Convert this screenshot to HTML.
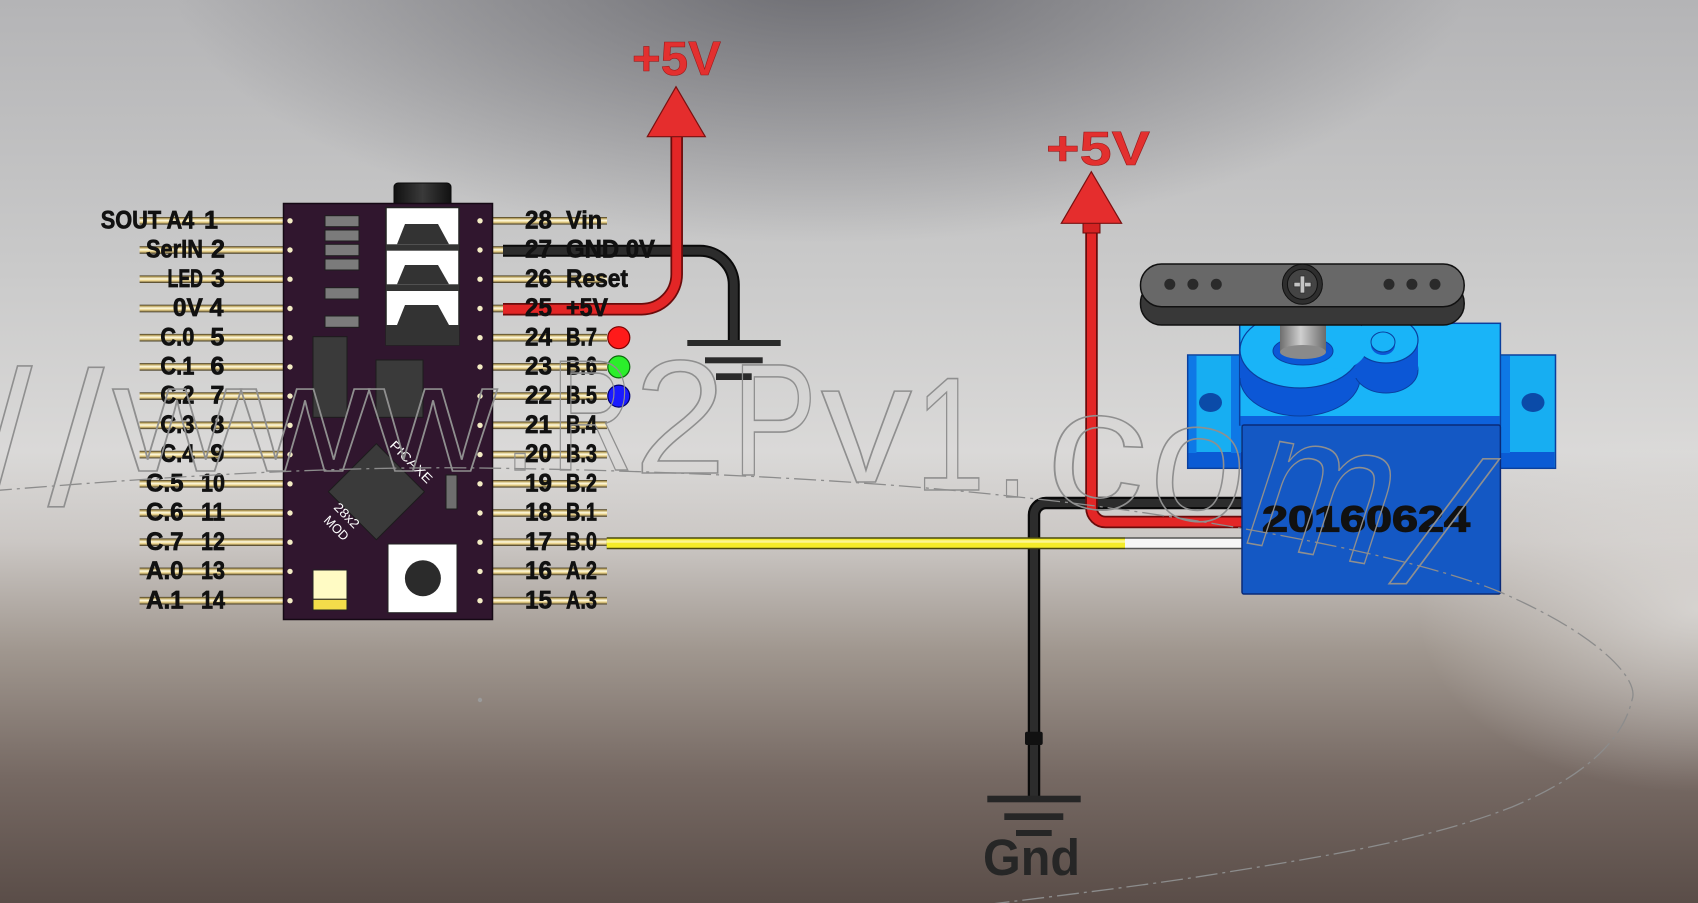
<!DOCTYPE html>
<html><head><meta charset="utf-8"><style>
html,body{margin:0;padding:0;background:#c8c8c8;}
svg{display:block;}
.lb{font-family:"Liberation Sans",Arial,sans-serif;font-weight:bold;font-size:25px;fill:#111;stroke:#111;stroke-width:0.7;}
.wm{font-family:"Liberation Sans",Arial,sans-serif;fill:none;stroke:#8f8f8f;stroke-width:1.6;}
</style></head><body>
<svg width="1698" height="903" viewBox="0 0 1698 903" xmlns="http://www.w3.org/2000/svg">
<defs>
 <linearGradient id="bg" x1="0" y1="0" x2="0" y2="1">
  <stop offset="0" stop-color="#b4b4b6"/>
  <stop offset="0.3" stop-color="#cacaca"/>
  <stop offset="0.5" stop-color="#dad9d8"/>
  <stop offset="0.6" stop-color="#cbc7c4"/>
  <stop offset="0.72" stop-color="#a0978f"/>
  <stop offset="0.86" stop-color="#766963"/>
  <stop offset="1" stop-color="#5a4d48"/>
 </linearGradient>
 <radialGradient id="topdark" cx="820" cy="-30" r="650" gradientUnits="userSpaceOnUse" gradientTransform="translate(820 -30) scale(1 0.42) translate(-820 30)">
  <stop offset="0" stop-color="#5e5e64" stop-opacity="0.85"/>
  <stop offset="1" stop-color="#5e5e64" stop-opacity="0"/>
 </radialGradient>
 <radialGradient id="rlight" cx="1698" cy="610" r="280" gradientUnits="userSpaceOnUse" gradientTransform="translate(1698 610) scale(1 0.65) translate(-1698 -610)">
  <stop offset="0" stop-color="#e2e0de" stop-opacity="0.75"/>
  <stop offset="1" stop-color="#e2e0de" stop-opacity="0"/>
 </radialGradient>
 <linearGradient id="pin" x1="0" y1="0" x2="0" y2="1">
  <stop offset="0" stop-color="#3a3220"/>
  <stop offset="0.2" stop-color="#c0a860"/>
  <stop offset="0.45" stop-color="#fffbe2"/>
  <stop offset="0.7" stop-color="#e8cf84"/>
  <stop offset="1" stop-color="#3a3220"/>
 </linearGradient>
 <linearGradient id="jack" x1="0" y1="0" x2="1" y2="0">
  <stop offset="0" stop-color="#111"/>
  <stop offset="0.5" stop-color="#3a3a3a"/>
  <stop offset="1" stop-color="#111"/>
 </linearGradient>
 <linearGradient id="shaft" x1="0" y1="0" x2="1" y2="0">
  <stop offset="0" stop-color="#6e6e6e"/>
  <stop offset="0.45" stop-color="#cfcfcf"/>
  <stop offset="1" stop-color="#6a6a6a"/>
 </linearGradient>
</defs>

<!-- background -->
<rect x="0" y="0" width="1698" height="903" fill="url(#bg)"/>
<rect x="0" y="0" width="1698" height="903" fill="url(#topdark)"/>
<rect x="0" y="0" width="1698" height="903" fill="url(#rlight)"/>

<!-- left pins -->
<g fill="url(#pin)">
 <rect x="139.6" y="217" width="144" height="7.6"/>
 <rect x="139.6" y="246.2" width="144" height="7.6"/>
 <rect x="139.6" y="275.4" width="144" height="7.6"/>
 <rect x="139.6" y="304.7" width="144" height="7.6"/>
 <rect x="139.6" y="333.9" width="144" height="7.6"/>
 <rect x="139.6" y="363.1" width="144" height="7.6"/>
 <rect x="139.6" y="392.3" width="144" height="7.6"/>
 <rect x="139.6" y="421.5" width="144" height="7.6"/>
 <rect x="139.6" y="450.8" width="144" height="7.6"/>
 <rect x="139.6" y="480" width="144" height="7.6"/>
 <rect x="139.6" y="509.2" width="144" height="7.6"/>
 <rect x="139.6" y="538.4" width="144" height="7.6"/>
 <rect x="139.6" y="567.6" width="144" height="7.6"/>
 <rect x="139.6" y="596.9" width="144" height="7.6"/>
</g>
<!-- right pins -->
<g fill="url(#pin)">
 <rect x="492" y="217" width="115" height="7.6"/>
 <rect x="492" y="246.2" width="12" height="7.6"/>
 <rect x="492" y="275.4" width="115" height="7.6"/>
 <rect x="492" y="304.7" width="12" height="7.6"/>
 <rect x="492" y="333.9" width="115" height="7.6"/>
 <rect x="492" y="363.1" width="115" height="7.6"/>
 <rect x="492" y="392.3" width="115" height="7.6"/>
 <rect x="492" y="421.5" width="115" height="7.6"/>
 <rect x="492" y="450.8" width="115" height="7.6"/>
 <rect x="492" y="480" width="115" height="7.6"/>
 <rect x="492" y="509.2" width="115" height="7.6"/>
 <rect x="492" y="538.4" width="115" height="7.6"/>
 <rect x="492" y="567.6" width="115" height="7.6"/>
 <rect x="492" y="596.9" width="115" height="7.6"/>
</g>

<!-- chip -->
<rect x="394" y="183" width="57" height="26" rx="4" fill="url(#jack)" stroke="#0a0a0a"/>
<rect x="283.5" y="203.5" width="209" height="416" fill="#30162e" stroke="#150914" stroke-width="1.5"/>
<g fill="#f3ecc4">
 <circle cx="290" cy="220.8" r="2.7"/><circle cx="290" cy="250" r="2.7"/><circle cx="290" cy="279.2" r="2.7"/><circle cx="290" cy="308.5" r="2.7"/><circle cx="290" cy="337.7" r="2.7"/><circle cx="290" cy="366.9" r="2.7"/><circle cx="290" cy="396.1" r="2.7"/><circle cx="290" cy="425.3" r="2.7"/><circle cx="290" cy="454.6" r="2.7"/><circle cx="290" cy="483.8" r="2.7"/><circle cx="290" cy="513" r="2.7"/><circle cx="290" cy="542.2" r="2.7"/><circle cx="290" cy="571.4" r="2.7"/><circle cx="290" cy="600.7" r="2.7"/>
 <circle cx="480" cy="220.8" r="2.7"/><circle cx="480" cy="250" r="2.7"/><circle cx="480" cy="279.2" r="2.7"/><circle cx="480" cy="308.5" r="2.7"/><circle cx="480" cy="337.7" r="2.7"/><circle cx="480" cy="366.9" r="2.7"/><circle cx="480" cy="396.1" r="2.7"/><circle cx="480" cy="425.3" r="2.7"/><circle cx="480" cy="454.6" r="2.7"/><circle cx="480" cy="483.8" r="2.7"/><circle cx="480" cy="513" r="2.7"/><circle cx="480" cy="542.2" r="2.7"/><circle cx="480" cy="571.4" r="2.7"/><circle cx="480" cy="600.7" r="2.7"/>
</g>
<g fill="#7b7b7b" stroke="#1e1e1e" stroke-width="1">
 <rect x="325" y="215.7" width="34" height="11"/>
 <rect x="325" y="230" width="34" height="11"/>
 <rect x="325" y="244.3" width="34" height="11.4"/>
 <rect x="325" y="259" width="34" height="11"/>
 <rect x="325" y="287.7" width="34" height="11.3"/>
 <rect x="325" y="316" width="34" height="11.3"/>
</g>
<!-- jack block -->
<rect x="386" y="207.5" width="73" height="137.5" fill="#fff" stroke="#222" stroke-width="1.5"/>
<rect x="386" y="325" width="73" height="20" fill="#333"/>
<rect x="386" y="244.3" width="73" height="6.4" fill="#333"/>
<rect x="386" y="284.3" width="73" height="6.7" fill="#333"/>
<g fill="#333">
 <polygon points="405,224 438,224 449,244.3 397,244.3"/>
 <polygon points="405,265 438,265 449,284.3 397,284.3"/>
 <polygon points="405,305 438,305 449,325 397,325"/>
</g>
<rect x="313" y="336.7" width="34" height="80.6" fill="#3a3a3a" stroke="#1c1c1c"/>
<rect x="376" y="360" width="47" height="57.3" fill="#3a3a3a" stroke="#1c1c1c"/>
<polygon points="376.4,443.7 424.4,491.7 376.4,539.7 328.4,491.7" fill="#3a3a3a" stroke="#1c1c1c"/>
<text x="389" y="446" transform="rotate(45 389 446)" font-family="'Liberation Sans',sans-serif" font-size="13" fill="#fff" textLength="54" lengthAdjust="spacingAndGlyphs">PICAXE</text>
<text x="333" y="508" transform="rotate(45 333 508)" font-family="'Liberation Sans',sans-serif" font-size="13" fill="#fff" textLength="30" lengthAdjust="spacingAndGlyphs">28x2</text>
<text x="323" y="521" transform="rotate(45 323 521)" font-family="'Liberation Sans',sans-serif" font-size="13" fill="#fff" textLength="29" lengthAdjust="spacingAndGlyphs">MOD</text>
<rect x="446" y="475" width="11" height="34" fill="#6e6e6e" stroke="#1c1c1c"/>
<rect x="388" y="544" width="69" height="68.7" fill="#fff" stroke="#222"/>
<circle cx="422.9" cy="578.3" r="18" fill="#2b2b2b"/>
<rect x="313" y="570" width="34" height="29.3" fill="#fffbc4" stroke="#222"/>
<rect x="313" y="599.3" width="34" height="10.7" fill="#f3dc4a" stroke="#222"/>

<!-- LEDs -->
<circle cx="618.8" cy="337.7" r="11" fill="#ff1a1a" stroke="#7a0000" stroke-width="1.2"/>
<circle cx="618.8" cy="366.9" r="11" fill="#2bee2b" stroke="#0a6a0a" stroke-width="1.2"/>
<circle cx="618.8" cy="396.1" r="11" fill="#1a1aff" stroke="#00006a" stroke-width="1.2"/>

<!-- wires: chip side -->
<g fill="none" stroke-linecap="butt">
 <path d="M503 250.8 H700 A33.8 33.8 0 0 1 733.8 284.6 V340" stroke="#0a0a0a" stroke-width="12"/>
 <path d="M503 250.8 H700 A33.8 33.8 0 0 1 733.8 284.6 V340" stroke="#2c2c2c" stroke-width="8"/>
 <path d="M503 309.2 H641.7 A35 35 0 0 0 676.7 274.2 V136" stroke="#6a0b0b" stroke-width="12.5"/>
 <path d="M503 309.2 H641.7 A35 35 0 0 0 676.7 274.2 V136" stroke="#e32626" stroke-width="9"/>
</g>
<g fill="#2a2a2a">
 <rect x="687.3" y="340" width="93.4" height="6"/>
 <rect x="705" y="357.3" width="57.7" height="6"/>
 <rect x="716" y="373.3" width="35.7" height="6.7"/>
</g>
<polygon points="676,86.7 705.3,136.7 647.3,136.7" fill="#e52d2d" stroke="#7a1010" stroke-width="1.2"/>
<text x="632" y="75" font-family="'Liberation Sans',sans-serif" font-weight="bold" font-size="48" fill="#e3302f" stroke="#9a1a1a" stroke-width="0.6" textLength="89" lengthAdjust="spacingAndGlyphs">+5V</text>

<!-- wires: servo side -->
<g fill="none">
 <path d="M1242 503 H1046 A12 12 0 0 0 1034 515 V796" stroke="#0a0a0a" stroke-width="12.5"/>
 <path d="M1242 503 H1046 A12 12 0 0 0 1034 515 V796" stroke="#2c2c2c" stroke-width="8"/>
 <path d="M1091.5 233 V508 A14 14 0 0 0 1105.5 522 H1242" stroke="#6a0b0b" stroke-width="12.5"/>
 <path d="M1091.5 233 V508 A14 14 0 0 0 1105.5 522 H1242" stroke="#e32626" stroke-width="9"/>
 <path d="M606.7 543.3 H1125" stroke="#4a4a10" stroke-width="12"/>
 <path d="M606.7 543.3 H1125" stroke="#f4ec2a" stroke-width="9"/>
 <path d="M606.7 541.5 H1125" stroke="#fbf690" stroke-width="2.5"/>
 <path d="M1125 543.3 H1245" stroke="#555" stroke-width="12"/>
 <path d="M1125 543.3 H1245" stroke="#f6f6f6" stroke-width="9"/>
</g>
<rect x="1025" y="731.7" width="17.7" height="13.3" rx="2" fill="#111"/>
<rect x="1083" y="223" width="17" height="10" fill="#d42222" stroke="#6a0b0b"/>
<polygon points="1091.3,171.7 1121.6,223.3 1061.3,223.3" fill="#e52d2d" stroke="#7a1010" stroke-width="1.2"/>
<text x="1046" y="165" font-family="'Liberation Sans',sans-serif" font-weight="bold" font-size="48" fill="#e3302f" stroke="#9a1a1a" stroke-width="0.6" textLength="104" lengthAdjust="spacingAndGlyphs">+5V</text>
<g fill="#262626">
 <rect x="987.3" y="795.7" width="93.4" height="6.6"/>
 <rect x="1004.3" y="813.3" width="59" height="6.7"/>
 <rect x="1016" y="830" width="35.7" height="6"/>
</g>
<text x="983" y="875" font-family="'Liberation Sans',sans-serif" font-weight="bold" font-size="51" fill="#262626" textLength="97" lengthAdjust="spacingAndGlyphs">Gnd</text>

<!-- servo -->
<rect x="1187.7" y="355" width="367.8" height="113.3" fill="#17aef2" stroke="#0a3f9e" stroke-width="1.5"/>
<rect x="1188.5" y="452" width="366" height="15.5" fill="#0b5bd4"/>
<rect x="1188.5" y="356" width="8" height="97" fill="#0e78e6"/>
<rect x="1500" y="356" width="10" height="97" fill="#0e78e6"/>
<rect x="1231" y="356" width="10" height="97" fill="#0e78e6"/>
<ellipse cx="1210.5" cy="402.5" rx="11.5" ry="9.5" fill="#0b4ba8"/>
<ellipse cx="1533" cy="402.5" rx="11.5" ry="9.5" fill="#0b4ba8"/>
<rect x="1239.7" y="323.3" width="260.7" height="101.7" fill="#19b4f8" stroke="#0a3f9e" stroke-width="1.5"/>
<rect x="1240.5" y="416" width="259" height="10" fill="#0e62dc"/>
<rect x="1242" y="425" width="258.4" height="169" rx="2" fill="#1458c4" stroke="#0a2a78" stroke-width="1.5"/>
<!-- gear housing -->
<g fill="#0c57d6" stroke="#0a3f9e" stroke-width="1">
 <ellipse cx="1300" cy="378" rx="60" ry="38"/>
 <ellipse cx="1386" cy="370" rx="32" ry="23"/>
</g>
<rect x="1240" y="350" width="120" height="28" fill="#0c57d6"/>
<rect x="1354" y="340" width="64" height="30" fill="#0c57d6"/>
<g fill="#19b4f8" stroke="#0a3f9e" stroke-width="1.2">
 <ellipse cx="1300" cy="350" rx="60" ry="38"/>
 <ellipse cx="1386" cy="340" rx="32" ry="23"/>
</g>
<ellipse cx="1340" cy="343" rx="28" ry="26" fill="#19b4f8"/>
<ellipse cx="1383" cy="345" rx="12" ry="10" fill="#0c57d6"/>
<ellipse cx="1383" cy="342" rx="12" ry="10" fill="#19b4f8" stroke="#0a3f9e"/>
<ellipse cx="1303" cy="351" rx="30" ry="14" fill="#0c57d6" stroke="#0a3f9e"/>
<rect x="1280" y="318" width="46" height="34" fill="url(#shaft)"/>
<ellipse cx="1303" cy="352" rx="23" ry="7" fill="#8a8a8a"/>
<!-- horn -->
<rect x="1140.5" y="282" width="323.7" height="43" rx="21" fill="#383838" stroke="#111" stroke-width="1.5"/>
<rect x="1140.5" y="264" width="323.7" height="42.7" rx="21" fill="#686868" stroke="#111" stroke-width="1.5"/>
<g fill="#2a2a2a">
 <circle cx="1169.8" cy="284.3" r="5.5"/><circle cx="1192.9" cy="284.3" r="5.5"/><circle cx="1216.3" cy="284.3" r="5.5"/>
 <circle cx="1389" cy="284.3" r="5.5"/><circle cx="1411.9" cy="284.3" r="5.5"/><circle cx="1435" cy="284.3" r="5.5"/>
</g>
<circle cx="1302.4" cy="284.3" r="20" fill="#2e2e2e" stroke="#111"/>
<circle cx="1302.4" cy="284.3" r="15" fill="#444" stroke="#111"/>
<rect x="1294" y="282.3" width="17" height="4.5" fill="#c4c4c4" stroke="#222" stroke-width="0.6"/>
<rect x="1300.2" y="276" width="4.5" height="17" fill="#c4c4c4" stroke="#222" stroke-width="0.6"/>
<text x="1262" y="531.7" font-family="'Liberation Sans',sans-serif" font-weight="bold" font-size="36" fill="#111" stroke="#111" stroke-width="1.2" textLength="208" lengthAdjust="spacingAndGlyphs">20160624</text>

<!-- labels left -->
<g class="lb">
 <text x="100.7" y="228.4" textLength="93.6" lengthAdjust="spacingAndGlyphs">SOUT A4</text>
 <text x="204" y="228.4" textLength="14" lengthAdjust="spacingAndGlyphs">1</text>
 <text x="146" y="257.6" textLength="57" lengthAdjust="spacingAndGlyphs">SerIN</text>
 <text x="211" y="257.6" textLength="14" lengthAdjust="spacingAndGlyphs">2</text>
 <text x="167.5" y="286.8" textLength="35.5" lengthAdjust="spacingAndGlyphs">LED</text>
 <text x="211" y="286.8" textLength="14" lengthAdjust="spacingAndGlyphs">3</text>
 <text x="172.9" y="316.1" textLength="30" lengthAdjust="spacingAndGlyphs">0V</text>
 <text x="209.5" y="316.1" textLength="14" lengthAdjust="spacingAndGlyphs">4</text>
 <text x="160.4" y="345.3" textLength="34" lengthAdjust="spacingAndGlyphs">C.0</text>
 <text x="210.4" y="345.3" textLength="14" lengthAdjust="spacingAndGlyphs">5</text>
 <text x="160.4" y="374.5" textLength="34" lengthAdjust="spacingAndGlyphs">C.1</text>
 <text x="210.4" y="374.5" textLength="14" lengthAdjust="spacingAndGlyphs">6</text>
 <text x="160.4" y="403.7" textLength="34" lengthAdjust="spacingAndGlyphs">C.2</text>
 <text x="210.4" y="403.7" textLength="14" lengthAdjust="spacingAndGlyphs">7</text>
 <text x="160.4" y="432.9" textLength="34" lengthAdjust="spacingAndGlyphs">C.3</text>
 <text x="210.4" y="432.9" textLength="14" lengthAdjust="spacingAndGlyphs">8</text>
 <text x="160.4" y="462.2" textLength="34" lengthAdjust="spacingAndGlyphs">C.4</text>
 <text x="210.4" y="462.2" textLength="14" lengthAdjust="spacingAndGlyphs">9</text>
 <text x="146" y="491.4" textLength="37.6" lengthAdjust="spacingAndGlyphs">C.5</text>
 <text x="201" y="491.4" textLength="24" lengthAdjust="spacingAndGlyphs">10</text>
 <text x="146" y="520.6" textLength="37.6" lengthAdjust="spacingAndGlyphs">C.6</text>
 <text x="201" y="520.6" textLength="24" lengthAdjust="spacingAndGlyphs">11</text>
 <text x="146" y="549.8" textLength="37.6" lengthAdjust="spacingAndGlyphs">C.7</text>
 <text x="201" y="549.8" textLength="24" lengthAdjust="spacingAndGlyphs">12</text>
 <text x="146" y="579" textLength="37.6" lengthAdjust="spacingAndGlyphs">A.0</text>
 <text x="201" y="579" textLength="24" lengthAdjust="spacingAndGlyphs">13</text>
 <text x="146" y="608.3" textLength="37.6" lengthAdjust="spacingAndGlyphs">A.1</text>
 <text x="201" y="608.3" textLength="24" lengthAdjust="spacingAndGlyphs">14</text>
</g>
<!-- labels right -->
<g class="lb">
 <text x="525" y="228.4" textLength="27" lengthAdjust="spacingAndGlyphs">28</text>
 <text x="566" y="228.4" textLength="36" lengthAdjust="spacingAndGlyphs">Vin</text>
 <text x="525" y="257.6" textLength="27" lengthAdjust="spacingAndGlyphs">27</text>
 <text x="566" y="257.6" textLength="89" lengthAdjust="spacingAndGlyphs">GND 0V</text>
 <text x="525" y="286.8" textLength="27" lengthAdjust="spacingAndGlyphs">26</text>
 <text x="566" y="286.8" textLength="62" lengthAdjust="spacingAndGlyphs">Reset</text>
 <text x="525" y="316.1" textLength="27" lengthAdjust="spacingAndGlyphs">25</text>
 <text x="566" y="316.1" textLength="42" lengthAdjust="spacingAndGlyphs">+5V</text>
 <text x="525" y="345.3" textLength="27" lengthAdjust="spacingAndGlyphs">24</text>
 <text x="566" y="345.3" textLength="31" lengthAdjust="spacingAndGlyphs">B.7</text>
 <text x="525" y="374.5" textLength="27" lengthAdjust="spacingAndGlyphs">23</text>
 <text x="566" y="374.5" textLength="31" lengthAdjust="spacingAndGlyphs">B.6</text>
 <text x="525" y="403.7" textLength="27" lengthAdjust="spacingAndGlyphs">22</text>
 <text x="566" y="403.7" textLength="31" lengthAdjust="spacingAndGlyphs">B.5</text>
 <text x="525" y="432.9" textLength="27" lengthAdjust="spacingAndGlyphs">21</text>
 <text x="566" y="432.9" textLength="31" lengthAdjust="spacingAndGlyphs">B.4</text>
 <text x="525" y="462.2" textLength="27" lengthAdjust="spacingAndGlyphs">20</text>
 <text x="566" y="462.2" textLength="31" lengthAdjust="spacingAndGlyphs">B.3</text>
 <text x="525" y="491.4" textLength="27" lengthAdjust="spacingAndGlyphs">19</text>
 <text x="566" y="491.4" textLength="31" lengthAdjust="spacingAndGlyphs">B.2</text>
 <text x="525" y="520.6" textLength="27" lengthAdjust="spacingAndGlyphs">18</text>
 <text x="566" y="520.6" textLength="31" lengthAdjust="spacingAndGlyphs">B.1</text>
 <text x="525" y="549.8" textLength="27" lengthAdjust="spacingAndGlyphs">17</text>
 <text x="566" y="549.8" textLength="31" lengthAdjust="spacingAndGlyphs">B.0</text>
 <text x="525" y="579" textLength="27" lengthAdjust="spacingAndGlyphs">16</text>
 <text x="566" y="579" textLength="31" lengthAdjust="spacingAndGlyphs">A.2</text>
 <text x="525" y="608.3" textLength="27" lengthAdjust="spacingAndGlyphs">15</text>
 <text x="566" y="608.3" textLength="31" lengthAdjust="spacingAndGlyphs">A.3</text>
</g>

<!-- dash-dot construction ellipse -->
<path d="M-10 491 C150 478 320 466 480 468 C640 470 850 478 1018 497 C1150 510 1400 550 1500 592 C1600 635 1640 680 1632 700 C1625 730 1600 770 1512 807 C1420 843 1300 860 1222 873 C1150 885 1050 897 900 915" fill="none" stroke="#8c8c8c" stroke-width="1.3" stroke-dasharray="22 5 3 5"/>
<circle cx="480" cy="700" r="2.2" fill="#9a9a9a"/>

<!-- watermark -->
<g class="wm">
 <text x="-20" y="500" font-size="185" textLength="52" lengthAdjust="spacingAndGlyphs">/</text>
 <text x="48" y="505" font-size="190" textLength="56" lengthAdjust="spacingAndGlyphs">/</text>
 <text x="113" y="471" font-size="155" textLength="384" lengthAdjust="spacingAndGlyphs">www</text>
 <text x="505" y="470" font-size="155" textLength="30" lengthAdjust="spacingAndGlyphs">.</text>
 <text x="551" y="470" font-size="158" textLength="82" lengthAdjust="spacingAndGlyphs">R</text>
 <text x="634" y="473" font-size="162" textLength="92" lengthAdjust="spacingAndGlyphs">2</text>
 <text x="732" y="475" font-size="160" textLength="85" lengthAdjust="spacingAndGlyphs">P</text>
 <text x="821" y="482" font-size="172" textLength="91" lengthAdjust="spacingAndGlyphs">v</text>
 <text x="915" y="490" font-size="162" textLength="70" lengthAdjust="spacingAndGlyphs">1</text>
 <text x="996" y="497" font-size="160" textLength="32" lengthAdjust="spacingAndGlyphs">.</text>
 <text x="1046" y="508" font-size="172" textLength="100" lengthAdjust="spacingAndGlyphs" transform="rotate(6 1096 465)">c</text>
 <text x="1150" y="520" font-size="172" textLength="96" lengthAdjust="spacingAndGlyphs" transform="rotate(8 1198 475)">o</text>
 <text x="1250" y="555" font-size="200" textLength="142" lengthAdjust="spacingAndGlyphs" transform="rotate(10 1320 500) skewX(-8) translate(72 0)">m</text>
 <text x="1400" y="582" font-size="170" textLength="60" lengthAdjust="spacingAndGlyphs" transform="skewX(-22) translate(225 0)">/</text>
</g>
</svg>
</body></html>
